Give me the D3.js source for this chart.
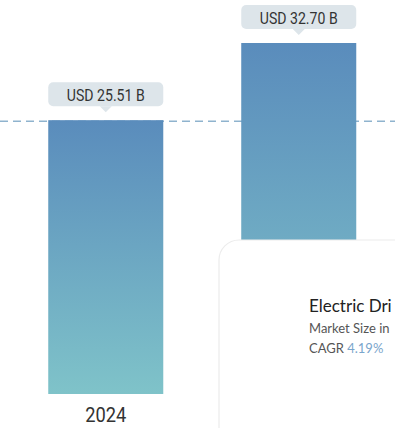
<!DOCTYPE html>
<html>
<head>
<meta charset="utf-8">
<script src="https://cdn.jsdelivr.net/npm/d3@7"></script>
<style>
  html, body { margin: 0; padding: 0; background: #ffffff; }
  svg { display: block; }
</style>
</head>
<body>
<div id="chart"></div>
<script>
// Market size by year (USD billion)
const years = ["2024", "2030"];
const marketSize = [25.51, 32.70];
const valueLabels = ["USD 25.51 B", "USD 32.70 B"];

// Summary card text (the card runs off the right edge of the frame)
const cardTitle = "Electric Dri";
const cardSubtitle = "Market Size in";
const cagrLabel = "CAGR";
const cagrValue = "4.19%";

const W = 395, H = 428;
const baseY = 394, topY = 43;
const narrowFont = "Roboto, 'Liberation Sans', sans-serif";

const svg = d3.select("#chart").append("svg")
  .attr("width", W).attr("height", H);

const defs = svg.append("defs");
const grad = defs.append("linearGradient")
  .attr("id", "barFill")
  .attr("x1", 0).attr("y1", 0).attr("x2", 0).attr("y2", 1);
grad.append("stop").attr("offset", "0%").attr("stop-color", "#5a8cbc");
grad.append("stop").attr("offset", "100%").attr("stop-color", "#7fc3c9");

const x = d3.scaleBand()
  .domain(years)
  .range([0, 404.5])
  .paddingInner(0.404)
  .paddingOuter(0.25);

const y = d3.scaleLinear()
  .domain([0, d3.max(marketSize)])
  .range([baseY, topY]);

const data = years.map((yr, i) => ({ year: yr, value: marketSize[i], label: valueLabels[i] }));

// Reference line at the first year's value
svg.append("line")
  .attr("x1", 0).attr("x2", W)
  .attr("y1", y(marketSize[0]) + 1).attr("y2", y(marketSize[0]) + 1)
  .attr("stroke", "#8fb3ce")
  .attr("stroke-width", 1.5)
  .attr("stroke-dasharray", "8,5");

// Bars
svg.selectAll("rect.bar").data(data).join("rect")
  .attr("class", "bar")
  .attr("x", d => x(d.year))
  .attr("y", d => y(d.value))
  .attr("width", x.bandwidth())
  .attr("height", d => baseY - y(d.value))
  .attr("fill", "url(#barFill)");

// Value callouts above bars
const callout = svg.selectAll("g.callout").data(data).join("g")
  .attr("class", "callout")
  .attr("transform", d => `translate(${x(d.year)},${y(d.value) - 38})`);

callout.append("rect")
  .attr("width", x.bandwidth())
  .attr("height", 24)
  .attr("rx", 5)
  .attr("fill", "#dde5ea");

callout.append("path")
  .attr("d", () => {
    const c = x.bandwidth() / 2;
    return `M${c - 6},24 L${c},30 L${c + 6},24 Z`;
  })
  .attr("fill", "#dde5ea");

// Condensed lettering: horizontal squeeze of the label text
callout.append("text")
  .attr("transform", `translate(${x.bandwidth() / 2},19) scale(0.88,1)`)
  .attr("text-anchor", "middle")
  .attr("font-family", narrowFont)
  .attr("font-size", 16)
  .attr("fill", "#333333")
  .text(d => d.label);

// Year labels
svg.selectAll("text.year").data(data).join("text")
  .attr("class", "year")
  .attr("transform", d => `translate(${x(d.year) + x.bandwidth() / 2},422) scale(0.87,1)`)
  .attr("text-anchor", "middle")
  .attr("font-family", narrowFont)
  .attr("font-size", 21)
  .attr("fill", "#333333")
  .text(d => d.year);

// Summary card
const card = svg.append("g").attr("transform", "translate(219,240)");
card.append("rect")
  .attr("x", 0).attr("y", 0)
  .attr("width", 260).attr("height", 260)
  .attr("rx", 20)
  .attr("fill", "#ffffff")
  .attr("stroke", "#ececec")
  .attr("stroke-width", 1.2);

card.append("text")
  .attr("x", 90).attr("y", 72)
  .attr("font-family", "Lato, 'Open Sans', sans-serif")
  .attr("font-size", 17)
  .attr("fill", "#222222")
  .text(cardTitle);

card.append("text")
  .attr("x", 90).attr("y", 93)
  .attr("font-family", "Lato, 'Open Sans', sans-serif")
  .attr("font-size", 13)
  .attr("fill", "#555555")
  .text(cardSubtitle);

const cagr = card.append("text")
  .attr("x", 90).attr("y", 113)
  .attr("font-family", "Lato, 'Open Sans', sans-serif")
  .attr("font-size", 13)
  .attr("fill", "#555555");
cagr.append("tspan").text(cagrLabel + " ");
cagr.append("tspan").attr("fill", "#7aa5cc").text(cagrValue);
</script>
</body>
</html>
